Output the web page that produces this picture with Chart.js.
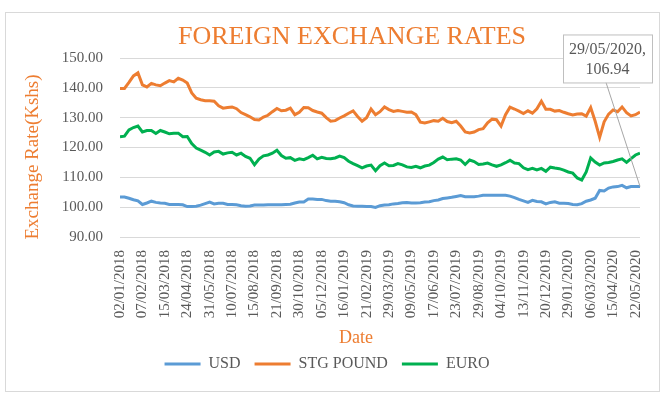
<!DOCTYPE html>
<html>
<head>
<meta charset="utf-8">
<script src="https://cdn.jsdelivr.net/npm/chart.js@4.4.1/dist/chart.umd.min.js"></script>
<style>
html, body { margin: 0; padding: 0; background: #fff; }
#frame { position: absolute; left: 5px; top: 12px; width: 655px; height: 380px; box-sizing: border-box; border: 1px solid #d9d9d9; }
</style>
</head>
<body>
<div id="frame"><canvas id="myChart"></canvas></div>
<script>
// trading-day index of the last observation; axis labels every 26 trading days
const LAST_DAY = 603;
const TICK_STEP = 26;
const LAST_DATE = "29/05/2020";

const tickLabels = [
    "02/01/2018", "07/02/2018", "15/03/2018", "24/04/2018", "31/05/2018", "10/07/2018",
    "15/08/2018", "21/09/2018", "30/10/2018", "05/12/2018", "16/01/2019", "21/02/2019",
    "29/03/2019", "09/05/2019", "17/06/2019", "23/07/2019", "29/08/2019", "04/10/2019",
    "13/11/2019", "20/12/2019", "29/01/2020", "06/03/2020", "15/04/2020", "22/05/2020"
];

// values at evenly spaced positions along the date axis
const usd = [
    103.4, 103.4, 103.0, 102.5, 102.1, 100.9, 101.4, 102.0, 101.6, 101.4,
    101.3, 100.9, 100.9, 100.9, 100.8, 100.2, 100.2, 100.3, 100.7, 101.2,
    101.7, 101.1, 101.3, 101.3, 100.9, 100.9, 100.8, 100.5, 100.3, 100.4,
    100.7, 100.7, 100.7, 100.8, 100.8, 100.8, 100.8, 100.9, 101.0, 101.4,
    101.7, 101.7, 102.7, 102.7, 102.6, 102.6, 102.2, 102.0, 102.0, 101.8,
    101.5, 100.8, 100.4, 100.3, 100.3, 100.2, 100.2, 99.9, 100.5, 100.7,
    100.8, 101.1, 101.2, 101.5, 101.6, 101.4, 101.4, 101.5, 101.7, 101.8,
    102.2, 102.4, 102.9, 103.1, 103.3, 103.6, 103.9, 103.5, 103.5, 103.5,
    103.7, 104.0, 104.0, 104.0, 104.0, 104.0, 104.0, 103.7, 103.2, 102.6,
    102.1, 101.6, 102.3, 101.9, 101.8, 101.1, 101.6, 101.8, 101.3, 101.3,
    101.2, 100.9, 100.8, 101.2, 102.0, 102.4, 103.0, 105.6, 105.4, 106.4,
    106.8, 106.9, 107.3, 106.5, 106.9, 106.9, 106.94
];
const gbp = [
    139.8, 139.8, 141.8, 144.0, 145.0, 141.0, 140.3, 141.5, 141.0, 140.7,
    141.6, 142.4, 142.0, 143.2, 142.6, 141.6, 138.3, 136.5, 136.0, 135.7,
    135.7, 135.5, 134.0, 133.2, 133.4, 133.6, 133.0, 131.7, 131.0, 130.3,
    129.4, 129.2, 130.2, 130.8, 132.0, 133.1, 132.3, 132.5, 133.2, 131.0,
    131.8, 133.4, 133.3, 132.4, 131.9, 131.5, 130.0, 128.8, 129.0, 129.9,
    130.6, 131.5, 132.3, 130.4, 128.8, 130.0, 132.9, 131.0, 132.0, 133.6,
    132.7, 132.1, 132.4, 132.1, 131.8, 131.9, 131.0, 128.5, 128.2, 128.6,
    129.0, 128.8, 129.8, 128.7, 128.3, 128.8, 127.2, 125.2, 124.9, 125.2,
    126.0, 126.3, 128.3, 129.5, 129.3, 127.2, 131.0, 133.5, 132.9, 132.2,
    131.4, 132.3, 131.5, 133.0, 135.5, 132.8, 132.8, 132.2, 132.4, 131.8,
    131.3, 130.9, 131.2, 131.3, 130.5, 133.4, 128.8, 123.4, 128.6, 131.2,
    132.6, 132.0, 133.6, 131.7, 130.6, 131.0, 131.9
];
const eur = [
    123.6, 123.8, 125.9, 126.7, 127.2, 125.2, 125.7, 125.7, 124.7, 125.7,
    125.2, 124.6, 124.8, 124.8, 123.6, 123.7, 121.3, 119.8, 119.1, 118.4,
    117.5, 118.5, 118.7, 117.8, 118.2, 118.4, 117.5, 118.1, 117.0, 116.4,
    114.2, 116.1, 117.2, 117.5, 118.1, 119.1, 117.3, 116.4, 116.6, 115.7,
    116.2, 115.9, 116.6, 117.4, 116.2, 116.7, 116.3, 116.2, 116.5, 117.1,
    116.6, 115.4, 114.6, 113.9, 113.2, 113.8, 114.1, 112.2, 113.9, 114.8,
    113.9, 114.0, 114.6, 114.2, 113.5, 113.3, 113.7, 113.2, 113.8, 114.1,
    115.0, 116.1, 116.8, 115.9, 116.1, 116.2, 115.8, 114.3, 115.8, 115.3,
    114.3, 114.5, 114.8, 114.2, 113.7, 114.2, 114.9, 115.7, 114.8, 114.6,
    113.2, 112.6, 113.0, 112.5, 113.0, 112.0, 113.4, 113.1, 112.9, 112.4,
    111.8, 111.4, 109.8, 109.1, 111.8, 116.5, 115.1, 114.1, 114.8, 115.0,
    115.3, 115.8, 116.2, 115.0, 116.3, 117.5, 118.1
];

const toPoints = (arr) => arr.map((v, i) => ({ x: i * LAST_DAY / (arr.length - 1), y: v }));

const GREY = '#595959';
const ORANGE = '#ED7D31';
const SERIF = '"Liberation Serif", "Times New Roman", serif';

// chart title and axis titles, placed where the original has them (off-centre)
const textPlugin = {
    id: 'chartTexts',
    afterDraw(chart) {
        const c = chart.ctx;
        c.save();
        c.fillStyle = ORANGE;
        c.textAlign = 'center';
        c.textBaseline = 'middle';
        c.font = '26px ' + SERIF;
        c.fillText('FOREIGN EXCHANGE RATES', 346, 24);
        c.font = '18px ' + SERIF;
        c.fillText('Date', 350, 325);
        c.translate(27, 144);
        c.rotate(-Math.PI / 2);
        c.font = '19px ' + SERIF;
        c.fillText('Exchange Rate(Kshs)', 0, 0);
        c.restore();
    }
};

// data label for the last USD point, with leader line
const calloutPlugin = {
    id: 'callout',
    afterDatasetsDraw(chart) {
        const meta = chart.getDatasetMeta(0);
        const pt = meta.data[meta.data.length - 1];
        const val = usd[usd.length - 1];
        const c = chart.ctx;
        const w = 89, h = 48;
        const bx = pt.x - 77, by = pt.y - 152;
        c.save();
        c.strokeStyle = '#a6a6a6';
        c.lineWidth = 1;
        c.beginPath();
        c.moveTo(bx + 43, by + h);
        c.lineTo(pt.x, pt.y);
        c.stroke();
        c.fillStyle = '#fff';
        c.fillRect(bx, by, w, h);
        c.strokeStyle = '#bfbfbf';
        c.strokeRect(bx + 0.5, by + 0.5, w, h);
        c.fillStyle = GREY;
        c.font = '16px ' + SERIF;
        c.textAlign = 'center';
        c.textBaseline = 'middle';
        c.fillText(LAST_DATE + ',', bx + w / 2, by + 15);
        c.fillText(val.toFixed(2), bx + w / 2, by + 35);
        c.restore();
    }
};

const ctx = document.getElementById('myChart').getContext('2d');

const myChart = new Chart(ctx, {
    type: 'line',
    data: {
        datasets: [
            { label: 'USD', data: toPoints(usd), borderColor: '#5B9BD5', backgroundColor: '#5B9BD5' },
            { label: 'STG POUND', data: toPoints(gbp), borderColor: ORANGE, backgroundColor: ORANGE },
            { label: 'EURO', data: toPoints(eur), borderColor: '#00B050', backgroundColor: '#00B050' }
        ]
    },
    options: {
        responsive: true,
        maintainAspectRatio: false,
        animation: false,
        layout: { padding: { left: 8, right: 19, top: 45, bottom: 9 } },
        elements: {
            line: { borderWidth: 3, tension: 0 },
            point: { radius: 0 }
        },
        plugins: {
            title: { display: false },
            legend: {
                position: 'bottom',
                labels: {
                    color: GREY,
                    font: { family: SERIF, size: 16 },
                    boxWidth: 36,
                    boxHeight: 3,
                    padding: 14,
                    generateLabels(chart) {
                        const items = Chart.defaults.plugins.legend.labels.generateLabels(chart);
                        items.forEach(it => { it.fillStyle = it.strokeStyle; it.lineWidth = 0; });
                        return items;
                    }
                }
            },
            tooltip: { enabled: false }
        },
        scales: {
            x: {
                type: 'linear',
                min: 0,
                max: LAST_DAY,
                grid: { display: false },
                border: { display: false },
                afterBuildTicks(scale) {
                    scale.ticks = tickLabels.map((_, i) => ({ value: i * TICK_STEP }));
                },
                afterFit(scale) { scale.height = 105; },
                ticks: {
                    autoSkip: false,
                    minRotation: 90,
                    maxRotation: 90,
                    padding: 5,
                    color: GREY,
                    font: { family: SERIF, size: 15 },
                    callback: (value) => tickLabels[Math.round(value / TICK_STEP)]
                }
            },
            y: {
                min: 90,
                max: 150,
                grid: { color: '#d9d9d9', drawTicks: false },
                border: { display: false },
                afterFit(scale) { scale.width = 106; },
                ticks: {
                    stepSize: 10,
                    padding: 17,
                    color: GREY,
                    font: { family: SERIF, size: 15 },
                    callback: (value) => value.toFixed(2)
                }
            }
        }
    },
    plugins: [textPlugin, calloutPlugin]
});
</script>
</body>
</html>
